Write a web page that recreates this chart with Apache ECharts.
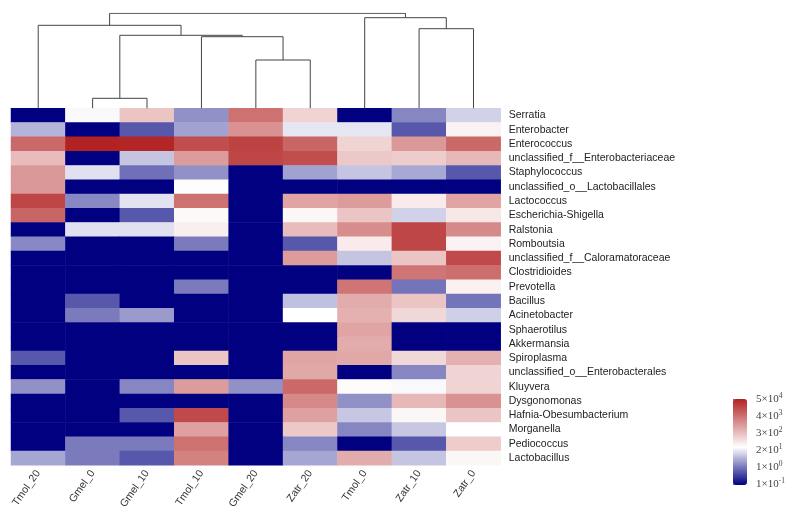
<!DOCTYPE html>
<html>
<head>
<meta charset="utf-8">
<script src="https://cdn.jsdelivr.net/npm/echarts@6/dist/echarts.min.js"></script>
<style>
  html, body { margin: 0; padding: 0; background: #fff; }
  #chart { width: 792px; height: 520px; }
</style>
</head>
<body>
<div id="chart"></div>
<script>
// 样本 (列顺序与聚类树一致)
const samples = ['Tmol_20', 'Gmel_0', 'Gmel_10', 'Tmol_10', 'Gmel_20', 'Zatr_20', 'Tmol_0', 'Zatr_10', 'Zatr_0'];

// 属名 (从上到下)
const genera = [
  'Serratia', 'Enterobacter', 'Enterococcus', 'unclassified_f__Enterobacteriaceae',
  'Staphylococcus', 'unclassified_o__Lactobacillales', 'Lactococcus', 'Escherichia-Shigella',
  'Ralstonia', 'Romboutsia', 'unclassified_f__Caloramatoraceae', 'Clostridioides',
  'Prevotella', 'Bacillus', 'Acinetobacter', 'Sphaerotilus', 'Akkermansia', 'Spiroplasma',
  'unclassified_o__Enterobacterales', 'Kluyvera', 'Dysgonomonas', 'Hafnia-Obesumbacterium',
  'Morganella', 'Pediococcus', 'Lactobacillus'
];

// 颜色刻度位置 0..5 (对应 1e-1 ... 5e4)，每行一个属
const levels = [
  [0, 2.15, 2.95, 1.25, 4.0, 2.75, 0, 1.15, 1.8],
  [1.55, 0, 0.75, 1.4, 3.6, 1.98, 1.98, 0.75, 2.35],
  [4.1, 5.0, 4.95, 4.45, 4.6, 4.15, 2.75, 3.5, 4.1],
  [3.05, 0, 1.7, 3.45, 4.55, 4.45, 2.9, 2.85, 3.1],
  [3.5, 1.93, 0.97, 1.25, 0, 1.4, 1.7, 1.45, 0.75],
  [3.5, 0, 0, 2.22, 0, 0, 0, 0, 0],
  [4.55, 1.17, 1.95, 4.0, 0, 3.35, 3.45, 2.45, 3.35],
  [4.15, 0, 0.75, 2.27, 0, 2.3, 2.95, 1.8, 2.5],
  [0, 1.93, 1.93, 2.4, 0, 3.05, 3.65, 4.55, 3.7],
  [1.17, 0, 0, 1.05, 0, 0.75, 2.45, 4.55, 2.35],
  [0, 0, 0, 0, 0, 3.45, 1.7, 2.95, 4.5],
  [0, 0, 0, 0, 0, 0, 0, 3.95, 4.05],
  [0, 0, 0, 1.05, 0, 0, 3.95, 1.0, 2.37],
  [0, 0.75, 0, 0, 0, 1.66, 3.25, 2.95, 1.0],
  [0, 1.05, 1.33, 0, 0, 2.2, 3.2, 2.7, 1.78],
  [0, 0, 0, 0, 0, 0, 3.35, 0, 0],
  [0, 0, 0, 0, 0, 0, 3.25, 0, 0],
  [0.75, 0, 0, 2.95, 0, 3.35, 3.3, 2.7, 3.2],
  [0, 0, 0, 0, 0, 3.3, 0, 1.15, 2.75],
  [1.25, 0, 1.15, 3.45, 1.25, 4.1, 2.25, 2.15, 2.75],
  [0, 0, 0, 0, 0, 3.7, 1.25, 3.1, 3.6],
  [0, 0, 0.75, 4.5, 0, 3.4, 1.72, 2.3, 2.95],
  [0, 0, 0, 3.4, 0, 2.9, 1.15, 1.72, 2.2],
  [0, 1.05, 1.05, 4.0, 0, 1.15, 0, 0.75, 2.85],
  [1.43, 1.05, 0.75, 3.8, 0, 1.43, 3.25, 1.7, 2.3]
];

// 聚类合并 (叶子 0..8，新节点从 9 开始编号)
const merges = [[1, 2], [4, 5], [3, 10], [9, 11], [0, 12], [7, 8], [6, 14], [13, 15]];
const mergeHeights = [10, 48.3, 71.6, 73, 83, 79.6, 90.6, 95];

// 图例刻度
const scaleMantissa = ['1', '1', '2', '3', '4', '5'];
const scaleExp = ['-1', '0', '1', '2', '3', '4'];

const chart = echarts.init(document.getElementById('chart'));

// navy -> white -> firebrick
function mix(a, b, t) {
  const c = a.map((v, i) => Math.round(v + (b[i] - v) * t));
  return 'rgb(' + c.join(',') + ')';
}
const NAVY = [0, 0, 128];
const WHITE = [255, 255, 255];
const FIREBRICK = [178, 34, 34];
const whiteAt = 2.2;
const scaleColors = [];
for (let i = 0; i <= 50; i++) {
  const v = i / 10;
  scaleColors.push(v <= whiteAt ? mix(NAVY, WHITE, v / whiteAt) : mix(WHITE, FIREBRICK, (v - whiteAt) / (5 - whiteAt)));
}

const heatData = [];
levels.forEach((row, r) => row.forEach((v, c) => heatData.push([c, r, v])));

// 聚类树线段
const dendroLines = [];
const nodeX = samples.map((s, i) => i + 0.5);
const nodeH = samples.map(() => 0);
merges.forEach(([a, b], k) => {
  const h = mergeHeights[k];
  dendroLines.push({
    coords: [[nodeX[a], nodeH[a]], [nodeX[a], h], [nodeX[b], h], [nodeX[b], nodeH[b]]],
  });
  nodeX.push((nodeX[a] + nodeX[b]) / 2);
  nodeH.push(h);
});

const gridLeft = 11;
const gridWidth = 489.7;

chart.setOption({
  backgroundColor: '#fff',
  animation: false,
  grid: [
    { left: gridLeft, top: 108.3, width: gridWidth, height: 357 },
    { left: gridLeft, top: 13.3, width: gridWidth, height: 95 },
    { left: 733, top: 399, width: 14, height: 85 },
  ],
  xAxis: [
    {
      type: 'category',
      gridIndex: 0,
      data: samples,
      axisLine: { show: false },
      axisTick: { show: false },
      splitLine: { show: false },
      axisLabel: {
        rotate: 55,
        margin: 6,
        interval: 0,
        fontFamily: 'Liberation Sans',
        fontSize: 10.5,
        color: '#333',
      },
    },
    { type: 'value', gridIndex: 1, min: 0, max: samples.length, show: false },
    { type: 'value', gridIndex: 2, min: 0, max: 1, show: false },
  ],
  yAxis: [
    {
      type: 'category',
      gridIndex: 0,
      data: genera,
      inverse: true,
      position: 'right',
      axisLine: { show: false },
      axisTick: { show: false },
      splitLine: { show: false },
      axisLabel: {
        margin: 8,
        interval: 0,
        fontFamily: 'Liberation Sans',
        fontSize: 10.5,
        color: '#222',
      },
    },
    { type: 'value', gridIndex: 1, min: 0, max: 95, show: false },
    {
      type: 'value',
      gridIndex: 2,
      min: 0,
      max: 5,
      interval: 1,
      position: 'right',
      offset: 1,
      axisLine: { show: false },
      splitLine: { show: false },
      axisTick: { show: true, inside: false, length: 4, lineStyle: { color: '#666', width: 1 } },
      axisLabel: {
        margin: 8,
        formatter(v) {
          const i = Math.round(v);
          return '{m|' + scaleMantissa[i] + '×10}{e|' + scaleExp[i] + '}';
        },
        rich: {
          m: { fontFamily: 'Liberation Serif', fontSize: 11, color: '#444', lineHeight: 13 },
          e: { fontFamily: 'Liberation Serif', fontSize: 7.5, color: '#444', lineHeight: 13, verticalAlign: 'top' },
        },
      },
    },
  ],
  visualMap: {
    type: 'continuous',
    seriesIndex: 0,
    min: 0,
    max: 5,
    calculable: false,
    orient: 'vertical',
    left: 733,
    top: 399,
    padding: 0,
    itemWidth: 14,
    itemHeight: 86,
    text: null,
    showLabel: false,
    inRange: { color: scaleColors },
  },
  series: [
    {
      type: 'heatmap',
      xAxisIndex: 0,
      yAxisIndex: 0,
      data: heatData,
      itemStyle: { borderWidth: 0 },
      emphasis: { disabled: true },
      silent: true,
      progressive: 0,
    },
    {
      type: 'lines',
      coordinateSystem: 'cartesian2d',
      xAxisIndex: 1,
      yAxisIndex: 1,
      polyline: true,
      silent: true,
      lineStyle: { color: '#444', width: 1, opacity: 1 },
      data: dendroLines,
    },
  ],
});
</script>
</body>
</html>
